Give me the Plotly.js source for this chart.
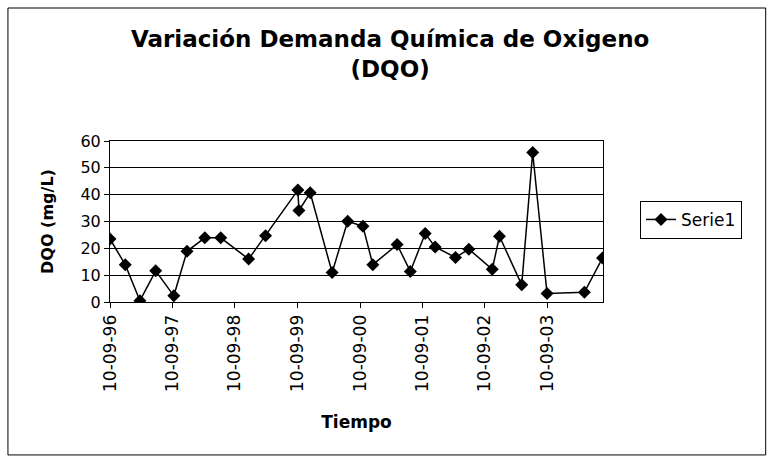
<!DOCTYPE html>
<html>
<head>
<meta charset="utf-8">
<script src="https://cdn.plot.ly/plotly-3.0.1.min.js"></script>
<style>html,body{margin:0;padding:0;background:#fff;}#chart{width:768px;height:463px;}</style>
</head>
<body>
<div id="chart"></div>
<script>
const fechas = ['1996-09-10','1996-12-08','1997-03-04','1997-06-04','1997-09-18','1997-12-04',
  '1998-03-18','1998-06-19','1998-11-29','1999-03-08','1999-09-13','1999-09-19','1999-11-24',
  '2000-03-31','2000-06-30','2000-09-27','2000-11-24','2001-04-15','2001-07-01','2001-09-26',
  '2001-11-23','2002-03-22','2002-06-08','2002-10-23','2002-12-04','2003-04-13','2003-06-16',
  '2003-09-08','2004-04-13','2004-07-28'];
const dqo = [23.5,13.9,0.5,11.6,2.3,18.9,23.9,23.9,16,24.7,41.7,34.1,40.7,11,30.1,28.2,13.9,
  21.4,11.4,25.5,20.5,16.6,19.7,12.2,24.5,6.4,55.7,3.2,3.6,16.4];
const tickFechas = ['1996-09-10','1997-09-10','1998-09-10','1999-09-10','2000-09-10','2001-09-10','2002-09-10','2003-09-10'];
const tickTextos = ['10-09-96','10-09-97','10-09-98','10-09-99','10-09-00','10-09-01','10-09-02','10-09-03'];
const serieNombre = 'Serie1';

const font = 'DejaVu Sans, sans-serif';
const trace = {
  x: fechas, y: dqo, type: 'scatter', mode: 'lines+markers', name: serieNombre,
  line: {color: '#000', width: 1.5},
  marker: {symbol: 'diamond', size: 10, color: '#000'}
};
const layout = {
  width: 768, height: 463,
  margin: {l: 110, r: 165, t: 141, b: 161},
  paper_bgcolor: '#fff', plot_bgcolor: '#fff',
  font: {family: font, color: '#000', size: 16},
  title: {text: '<b>Variación Demanda Química de Oxigeno<br>(DQO)</b>', font: {size: 23, family: font},
    x: 0.508, xanchor: 'center', y: 0.898, yanchor: 'top'},
  xaxis: {type: 'date', range: ['1996-09-10', '2004-07-31'], tickvals: tickFechas, ticktext: tickTextos,
    tickangle: -90, tickfont: {size: 17}, showgrid: false, showline: true, linecolor: '#000', linewidth: 1,
    mirror: true, ticks: 'outside', ticklen: 5, tickcolor: '#000', zeroline: false,
    title: {text: '<b>Tiempo</b>', font: {size: 17}, standoff: 25}},
  yaxis: {range: [0, 60], dtick: 10, showgrid: true, gridcolor: '#000', gridwidth: 1, showline: true,
    linecolor: '#000', linewidth: 1, mirror: true, ticks: 'outside', ticklen: 5, tickcolor: '#000',
    zeroline: false, tickfont: {size: 16},
    title: {text: '<b>DQO (mg/L)</b>', font: {size: 16}, standoff: 22}},
  showlegend: true,
  legend: {x: 1.075, xanchor: 'left', y: 0.51, yanchor: 'middle', bordercolor: '#000', borderwidth: 1,
    bgcolor: '#fff', font: {size: 17}},
  shapes: [{type: 'rect', xref: 'paper', yref: 'paper', x0: -0.207, x1: 1.33, y0: -0.95, y1: 1.826,
    line: {color: '#000', width: 1}}]
};
Plotly.newPlot('chart', [trace], layout, {displayModeBar: false, staticPlot: true});
</script>
</body>
</html>
